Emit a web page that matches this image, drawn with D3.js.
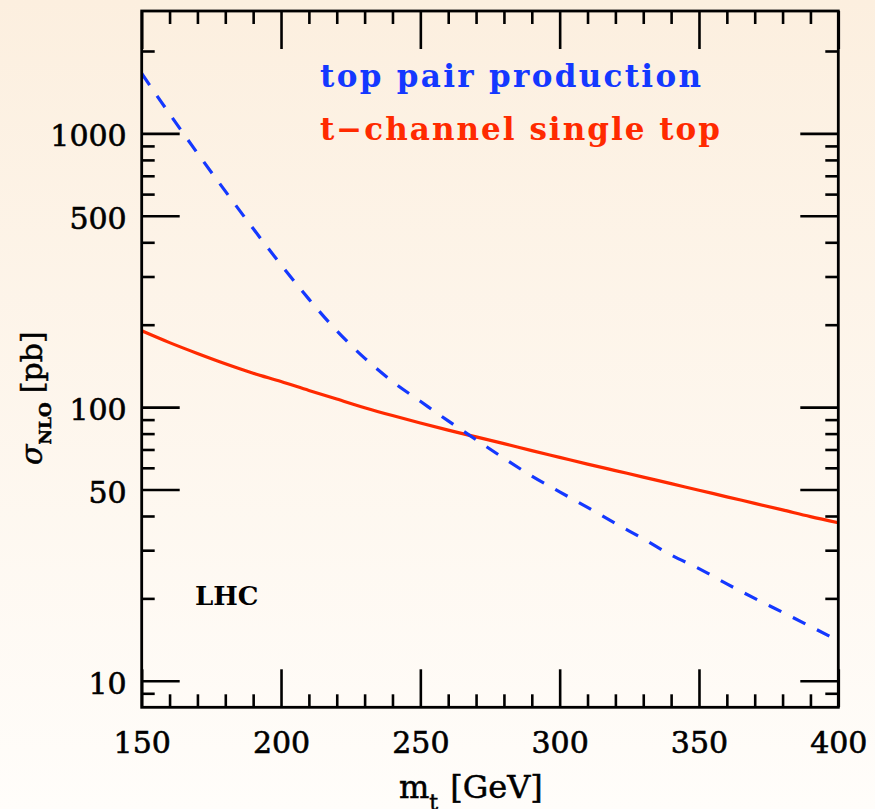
<!DOCTYPE html>
<html>
<head>
<meta charset="utf-8">
<script src="https://cdn.jsdelivr.net/npm/d3@7"></script>
<style>
  html, body { margin: 0; padding: 0; }
  body { width: 875px; height: 809px; overflow: hidden; }
  .axis path { display: none; }
  .axis line { stroke: #000; stroke-width: 2.6; }
  .axis text { font-family: "DejaVu Serif", serif; font-size: 30px; fill: #000; stroke: #000; stroke-width: 0.6; }
</style>
</head>
<body>
<svg id="chart"></svg>
<script>
// top quark mass [GeV]
const masses = [150, 160, 170, 180, 190, 200, 210, 220, 230, 240, 250, 260, 270,
                280, 290, 300, 310, 320, 330, 340, 350, 360, 370, 380, 390, 400];
// sigma NLO [pb], top pair production (dashed blue)
const topPair = [1656, 1178, 847, 615, 449, 331, 248, 190, 151, 124, 105, 89, 76,
                 65, 56, 49, 43, 37.6, 33, 28.8, 25.7, 22.6, 20, 17.8, 15.8, 14.0];
// sigma NLO [pb], t-channel single top (solid red)
const singleTop = [190, 172, 157, 144, 133, 124, 115, 107, 99.5, 93.1, 87.5, 82.4, 77.8,
                   73.5, 69.3, 65.5, 61.9, 58.6, 55.5, 52.5, 49.7, 47.0, 44.5, 42.1, 39.8, 37.8];

const xMajor = [150, 200, 250, 300, 350, 400];
const xMinor = d3.range(160, 400, 10).filter(d => d % 50 !== 0);
const yMajor = [10, 50, 100, 500, 1000];
const yMinor = [9, 20, 30, 40, 60, 70, 80, 90, 200, 300, 400, 600, 700, 800, 900, 2000];

const legend = ["top pair production", "t\u2212channel single top"];
const blue = "#1438ff", red = "#ff2a00";

function init() {
    let width = 875,
        height = 809,
        left = 141.7, right = 838.3, top = 11, bottom = 707.3,
        svg = d3.select('#chart').attr('width', width).attr('height', height);

    let defs = svg.append('defs');
    let grad = defs.append('linearGradient').attr('id', 'bg')
        .attr('x1', 0).attr('y1', 0).attr('x2', 0).attr('y2', 1);
    grad.append('stop').attr('offset', '0%').attr('stop-color', '#fcefdf');
    grad.append('stop').attr('offset', '100%').attr('stop-color', '#fffdfa');
    defs.append('clipPath').attr('id', 'plot')
        .append('rect').attr('x', left).attr('y', top)
        .attr('width', right - left).attr('height', bottom - top);

    svg.append('rect').attr('width', width).attr('height', height).attr('fill', 'url(#bg)');

    let x = d3.scaleLinear().domain([150, 400]).range([left, right]);
    let y = d3.scaleLog().domain([8, 2800]).range([bottom, top]);

    // ticks on all four sides, pointing inwards
    const major = 38, minor = 13;
    svg.append('g').attr('class', 'axis').attr('transform', `translate(0,${bottom})`)
        .call(d3.axisBottom(x).tickValues(xMajor).tickSize(-major).tickPadding(24)
            .tickFormat(d3.format('d')));
    svg.append('g').attr('class', 'axis').attr('transform', `translate(0,${bottom})`)
        .call(d3.axisBottom(x).tickValues(xMinor).tickSize(-minor).tickFormat(''));
    svg.append('g').attr('class', 'axis').attr('transform', `translate(0,${top})`)
        .call(d3.axisTop(x).tickValues(xMajor).tickSize(-major).tickFormat(''));
    svg.append('g').attr('class', 'axis').attr('transform', `translate(0,${top})`)
        .call(d3.axisTop(x).tickValues(xMinor).tickSize(-minor).tickFormat(''));

    let yAxis = svg.append('g').attr('class', 'axis').attr('transform', `translate(${left},0)`)
        .call(d3.axisLeft(y).tickValues(yMajor).tickSize(-major).tickPadding(15)
            .tickFormat(d3.format('d')));
    yAxis.selectAll('text').attr('dy', '0.42em');
    svg.append('g').attr('class', 'axis').attr('transform', `translate(${left},0)`)
        .call(d3.axisLeft(y).tickValues(yMinor).tickSize(-minor).tickFormat(''));
    svg.append('g').attr('class', 'axis').attr('transform', `translate(${right},0)`)
        .call(d3.axisRight(y).tickValues(yMajor).tickSize(-major).tickFormat(''));
    svg.append('g').attr('class', 'axis').attr('transform', `translate(${right},0)`)
        .call(d3.axisRight(y).tickValues(yMinor).tickSize(-minor).tickFormat(''));

    // curves
    let line = d3.line().curve(d3.curveMonotoneX);
    let g = svg.append('g').attr('clip-path', 'url(#plot)');
    g.append('path')
        .attr('d', line(masses.map((m, i) => [x(m), y(singleTop[i])])))
        .attr('fill', 'none').attr('stroke', red).attr('stroke-width', 3.2);
    g.append('path')
        .attr('d', line(masses.map((m, i) => [x(m), y(topPair[i])])))
        .attr('fill', 'none').attr('stroke', blue).attr('stroke-width', 3.2)
        .attr('stroke-dasharray', '14,13');

    // frame
    svg.append('rect').attr('x', left).attr('y', top)
        .attr('width', right - left).attr('height', bottom - top)
        .attr('fill', 'none').attr('stroke', '#000').attr('stroke-width', 2.8);

    // legend
    svg.selectAll('text.legend')
        .data(legend)
        .enter()
        .append('text')
        .attr('class', 'legend')
        .attr('x', 320)
        .attr('y', (d, i) => 87 + i * 53)
        .attr('fill', (d, i) => i === 0 ? blue : red)
        .attr('font-family', '"DejaVu Serif", serif')
        .attr('font-weight', 'bold')
        .attr('font-size', '31px')
        .attr('textLength', (d, i) => i === 0 ? 381 : 400)
        .attr('lengthAdjust', 'spacing')
        .text(d => d);

    svg.append('text').attr('x', 195).attr('y', 605)
        .attr('font-family', '"DejaVu Serif", serif').attr('font-size', '26px')
        .attr('font-weight', 'bold')
        .text('LHC');

    // axis titles
    let xt = svg.append('text').attr('x', 399).attr('y', 798)
        .attr('font-family', '"DejaVu Serif", serif').attr('font-size', '32px')
        .attr('stroke', '#000').attr('stroke-width', 0.5);
    xt.append('tspan').text('m');
    xt.append('tspan').attr('font-size', '22px').attr('dy', 12).text('t');
    xt.append('tspan').attr('dy', -12).attr('dx', 12).text('[GeV]');

    let yt = svg.append('text').attr('transform', 'translate(42,465) rotate(-90)')
        .attr('font-family', '"DejaVu Serif", serif').attr('font-size', '30px')
        .attr('stroke', '#000').attr('stroke-width', 0.5);
    yt.append('tspan').attr('font-style', 'italic').text('\u03c3');
    yt.append('tspan').attr('font-size', '17px').attr('font-weight', 'bold')
        .attr('dy', 9).text('NLO');
    yt.append('tspan').attr('dy', -9).attr('dx', 9).text('[pb]');
}

onload = function () {
    init();
}
</script>
</body>
</html>
